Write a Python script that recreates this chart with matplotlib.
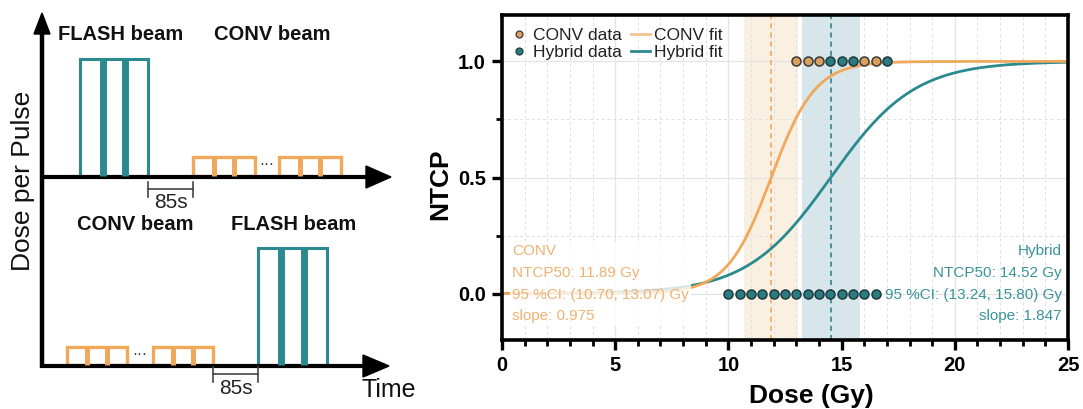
import numpy as np
import matplotlib
matplotlib.use("Agg")
import matplotlib.pyplot as plt
from matplotlib.patches import Rectangle, Polygon
from matplotlib.ticker import MultipleLocator
from matplotlib.lines import Line2D

plt.rcParams['font.family'] = ['Liberation Sans', 'DejaVu Sans']

# ---------------- data ----------------
conv_ntcp50 = 11.89
conv_ci = (10.70, 13.07)
conv_slope = 0.975
hyb_ntcp50 = 14.52
hyb_ci = (13.24, 15.80)
hyb_slope = 1.847

conv_dose_resp = [13.0, 13.5, 14.0, 16.0, 16.5]
conv_resp = [1, 1, 1, 1, 1]
hyb_dose_resp = [14.5, 15.0, 15.5, 17.0]
hyb_resp = [1, 1, 1, 1]
hyb_dose_none = [10.0, 10.5, 11.0, 11.5, 12.0, 12.5, 13.0, 13.5, 14.0,
                 14.5, 15.0, 15.5, 16.0, 16.5]
hyb_none = [0] * len(hyb_dose_none)

x_ticks = [0, 5, 10, 15, 20, 25]
y_ticks = [0.0, 0.5, 1.0]

ORANGE = '#F0A95B'
ORANGE_TXT = '#F0B273'
TEAL = '#2B8A8F'
TEAL_TXT = '#3A939A'
ORANGE_DOT = '#D9A05E'
TEAL_DOT = '#2A7C82'

W, H = 1083, 409
fig = plt.figure(figsize=(W / 100, H / 100), dpi=100)

# ---------------- left schematic (pixel space) ----------------
ax0 = fig.add_axes([0, 0, 1, 1])
ax0.set_xlim(0, W)
ax0.set_ylim(H, 0)
ax0.axis('off')

K = 'black'
ax0.plot([42, 42], [368, 30], color=K, lw=3.2, solid_capstyle='butt')
ax0.add_patch(Polygon([[42, 13], [34, 34], [50, 34]], closed=True, color=K))
ax0.plot([40, 368], [177, 177], color=K, lw=3.0, solid_capstyle='butt')
ax0.add_patch(Polygon([[391, 177], [366, 166], [366, 188]], closed=True, color=K))
ax0.plot([40, 366], [366, 366], color=K, lw=3.0, solid_capstyle='butt')
ax0.add_patch(Polygon([[389, 366], [363, 355], [363, 377]], closed=True, color=K))


def pulses(x0, x1, ytop, ybot, color, lw_out, lw_in):
    ax0.add_patch(Rectangle((x0, ytop), x1 - x0, ybot - ytop, fill=False,
                            edgecolor=color, lw=lw_out, joinstyle='miter'))
    for i in (1, 2):
        xi = x0 + (x1 - x0) * i / 3
        ax0.plot([xi, xi], [ytop, ybot], color=color, lw=lw_in,
                 solid_capstyle='butt')


pulses(80, 148, 59, 176, TEAL, 2.2, 5.0)
pulses(193, 255, 157, 176, ORANGE, 2.4, 3.6)
pulses(279, 341, 157, 176, ORANGE, 2.4, 3.6)
ax0.text(267, 164, '···', ha='center', va='center', fontsize=11, color='#333333')
pulses(67, 127, 347, 365, ORANGE, 2.4, 3.6)
pulses(153, 213, 347, 365, ORANGE, 2.4, 3.6)
ax0.text(140, 354, '···', ha='center', va='center', fontsize=11, color='#333333')
pulses(258, 327, 248, 365, TEAL, 2.2, 5.0)


def bracket(x0, x1, y, label, ty):
    ax0.plot([x0, x1], [y, y], color='#444444', lw=1.2)
    for xx in (x0, x1):
        ax0.plot([xx, xx], [y - 7, y + 8], color='#444444', lw=1.2)
    ax0.text((x0 + x1) / 2, ty, label, ha='center', va='center',
             fontsize=15, color='#222222')


bracket(148, 193, 189, '85s', 202)
bracket(213, 258, 374, '85s', 389)

bold = dict(fontsize=14.5, fontweight='bold', ha='center', va='center', color='#111111')
ax0.text(121, 35, 'FLASH beam', **bold)
ax0.text(272, 35, 'CONV beam', **bold)
ax0.text(135, 225, 'CONV beam', **bold)
ax0.text(294, 225, 'FLASH beam', **bold)
ax0.text(23, 181, 'Dose per Pulse', rotation=90, ha='center', va='center',
         fontsize=19, color='#111111')
ax0.text(361, 390, 'Time', ha='left', va='center', fontsize=18, color='#111111')

# ---------------- right NTCP chart ----------------
L, R, T, B = 502, 1068, 15, 340
ax = fig.add_axes([L / W, 1 - B / H, (R - L) / W, (B - T) / H])
ax.set_xlim(0, 25)
ax.set_ylim(-0.2, 1.2)

ax.axvspan(conv_ci[0], conv_ci[1], color='#F8E6CF', alpha=0.6, lw=0, zorder=0)
ax.axvspan(hyb_ci[0], hyb_ci[1], color='#C5DCE2', alpha=0.7, lw=0, zorder=0)

ax.xaxis.set_minor_locator(MultipleLocator(1))
ax.yaxis.set_minor_locator(MultipleLocator(0.25))
ax.set_xticks(x_ticks)
ax.set_yticks(y_ticks)
ax.set_yticklabels([f'{v:.1f}' for v in y_ticks])
ax.grid(which='major', color='#E4E4E4', lw=0.9, ls='-', zorder=0.5)
ax.grid(which='minor', color='#E0E0E0', lw=0.7, ls=(0, (3, 3)), zorder=0.5)
ax.set_axisbelow(True)

ax.axvline(conv_ntcp50, color=ORANGE, lw=1.2, ls=(0, (3, 2.5)), zorder=1)
ax.axvline(hyb_ntcp50, color='#3D7F8A', lw=1.2, ls=(0, (3, 2.5)), zorder=1)

d = np.linspace(0, 25, 600)
conv_fit = 1 / (1 + np.exp(-(d - conv_ntcp50) / conv_slope))
hyb_fit = 1 / (1 + np.exp(-(d - hyb_ntcp50) / hyb_slope))
ax.plot(d, hyb_fit, color=TEAL, lw=2.0, zorder=2)
ax.plot(d, conv_fit, color=ORANGE, lw=2.0, zorder=2)

mk = dict(marker='o', ls='none', ms=6.5, mew=1.1, zorder=4, clip_on=False)
ax.plot(conv_dose_resp, conv_resp, mfc=ORANGE_DOT, mec='#3a3a3a', **mk)
ax.plot(hyb_dose_resp, hyb_resp, mfc=TEAL_DOT, mec='#1f3a3c', **mk)
ax.plot(hyb_dose_none, hyb_none, mfc=TEAL_DOT, mec='#1f3a3c', **mk)

handles = [
    Line2D([], [], marker='o', ls='none', ms=5, mfc=ORANGE_DOT, mec='#3a3a3a', mew=0.9),
    Line2D([], [], marker='o', ls='none', ms=5, mfc=TEAL_DOT, mec='#1f3a3c', mew=0.9),
    Line2D([], [], color='#F3C48E', lw=2),
    Line2D([], [], color=TEAL, lw=2),
]
labels = ['CONV data', 'Hybrid data', 'CONV fit', 'Hybrid fit']
leg = ax.legend(handles, labels, ncol=2, loc='upper left', bbox_to_anchor=(0.0, 0.985),
                frameon=False, fontsize=12.5, handlelength=1.1, handletextpad=0.25,
                columnspacing=0.5, labelspacing=0.1, borderaxespad=0.25, borderpad=0.2)
for t in leg.get_texts():
    t.set_color('#222222')

conv_txt = (f'CONV\nNTCP50: {conv_ntcp50:.2f} Gy\n'
            f'95 %CI: ({conv_ci[0]:.2f}, {conv_ci[1]:.2f}) Gy\nslope: {conv_slope:.3f}')
hyb_txt = (f'Hybrid\nNTCP50: {hyb_ntcp50:.2f} Gy\n'
           f'95 %CI: ({hyb_ci[0]:.2f}, {hyb_ci[1]:.2f}) Gy\nslope: {hyb_slope:.3f}')
ax.text(0.018, 0.043, conv_txt, transform=ax.get_yaxis_transform(), ha='left', va='center',
        fontsize=11, color=ORANGE_TXT, linespacing=1.72, zorder=5,
        bbox=dict(facecolor='white', edgecolor='none', alpha=0.8, pad=1.5))
ax.text(0.989, 0.043, hyb_txt, transform=ax.get_yaxis_transform(), ha='right', va='center',
        fontsize=11, color=TEAL_TXT, linespacing=1.72, zorder=5, multialignment='right')

for s in ax.spines.values():
    s.set_linewidth(2.6)
    s.set_color('black')
ax.tick_params(which='major', direction='out', length=7.5, width=2.4, labelsize=14.5,
               pad=4, top=False, right=False)
ax.tick_params(which='minor', direction='out', length=4, width=2.0, top=False, right=False)
for lab in ax.get_xticklabels() + ax.get_yticklabels():
    lab.set_fontweight('bold')

ax.set_xlabel('Dose (Gy)', fontsize=19, fontweight='bold', labelpad=2)
ax.xaxis.set_label_coords(0.547, -0.135)
ax.set_ylabel('NTCP', fontsize=19, fontweight='bold')
ax.yaxis.set_label_coords(-0.088, 0.48)

fig.savefig('out.png', dpi=100)
